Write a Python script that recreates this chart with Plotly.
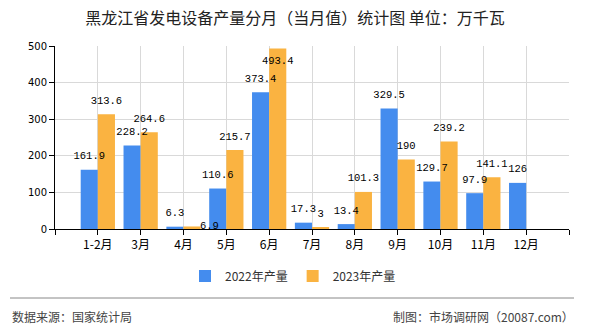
import plotly.graph_objects as go

categories = ["1-2月", "3月", "4月", "5月", "6月", "7月", "8月", "9月", "10月", "11月", "12月"]
values_2022 = [161.9, 228.2, 6.3, 110.6, 373.4, 17.3, 13.4, 329.5, 129.7, 97.9, 126]
values_2023 = [313.6, 264.6, 6.9, 215.7, 493.4, 3, 101.3, 190, 239.2, 141.1, None]
series_names = ["2022年产量", "2023年产量"]
y_ticks = [0, 100, 200, 300, 400, 500]

title = "黑龙江省发电设备产量分月（当月值）统计图 单位：万千瓦"
source_left = "数据来源：国家统计局"
source_right = "制图：市场调研网（20087.com）"

BLUE = "#448CEE"
ORANGE = "#FAB341"
xs = list(range(len(categories)))
BAR_W = 0.4

def fmt(v):
    return "" if v is None else ("%g" % v)

fig = go.Figure()
series = [(series_names[0], values_2022, BLUE, -BAR_W), (series_names[1], values_2023, ORANGE, 0.0)]
for name, vals, col, off in series:
    fig.add_trace(go.Bar(
        x=xs, y=vals, name=name, marker=dict(color=col, line=dict(width=0)),
        width=BAR_W, offset=off, hoverinfo="y+name",
    ))

# data labels drawn on top of all bars
pos_2022 = ["top center"] * len(values_2022)
pos_2023 = ["top center"] * len(values_2023)
pos_2023[2] = "middle right"   # 4月 label pushed aside in reference
pos_2023[4] = "bottom center"  # 6月 label sits inside bar top
for (name, vals, col, off), pos in zip(series, [pos_2022, pos_2023]):
    fig.add_trace(go.Scatter(
        x=[x + off + BAR_W / 2 for x in xs], y=vals, mode="markers+text",
        marker=dict(size=11, opacity=0),
        text=[fmt(v) for v in vals], textposition=pos, cliponaxis=False,
        textfont=dict(family="Liberation Mono", size=10.5, color="#000"),
        showlegend=False, hoverinfo="skip",
    ))

fig.update_layout(
    width=590, height=330,
    margin=dict(l=55, r=21, t=46, b=101),
    paper_bgcolor="white", plot_bgcolor="white",
    barmode="overlay",
    showlegend=True,
    legend=dict(orientation="h", x=(293-55)/514, xanchor="center", xref="paper",
                y=-(276-229)/183, yanchor="middle",
                font=dict(family="Noto Sans CJK SC", size=12, color="#333"),
                itemwidth=30, traceorder="normal"),
    title=dict(text=title, x=0.5, xanchor="center", y=1-18/330, yanchor="middle",
               font=dict(family="Noto Sans CJK SC", size=16, color="#222")),
)

fig.update_xaxes(
    range=[-1, len(categories)],
    tickmode="array",
    tickvals=list(range(-1, len(categories) + 1)),
    ticktext=[""] + categories + [""],
    showgrid=True, gridcolor="#D9D9D9", gridwidth=1,
    showline=True, linecolor="#000", linewidth=1,
    ticks="outside", ticklen=5, tickcolor="#000",
    tickfont=dict(family="Noto Sans CJK SC", size=12, color="#000"),
    zeroline=False,
)
fig.update_yaxes(
    range=[0, 500], tickvals=y_ticks,
    showgrid=True, gridcolor="#D9D9D9", gridwidth=1,
    showline=True, linecolor="#000", linewidth=1,
    ticks="outside", ticklen=5, tickcolor="#000",
    tickfont=dict(family="DejaVu Sans", size=10, color="#000"),
    zeroline=False,
)

# footer separator line and source texts
fig.add_shape(type="line", xref="paper", yref="paper",
              x0=-45/514, x1=(574-55)/514, y0=-(298-229)/183, y1=-(298-229)/183,
              line=dict(color="#888", width=1))
fig.add_annotation(text=source_left, xref="paper", yref="paper",
                   x=-45/514, xanchor="left", y=-(316-229)/183, yanchor="middle",
                   showarrow=False, font=dict(family="Noto Sans CJK SC", size=12, color="#444"))
fig.add_annotation(text=source_right, xref="paper", yref="paper",
                   x=(576-55)/514, xanchor="right", y=-(316-229)/183, yanchor="middle",
                   showarrow=False, font=dict(family="Noto Sans CJK SC", size=12, color="#444"))

fig.write_html("out.html")
